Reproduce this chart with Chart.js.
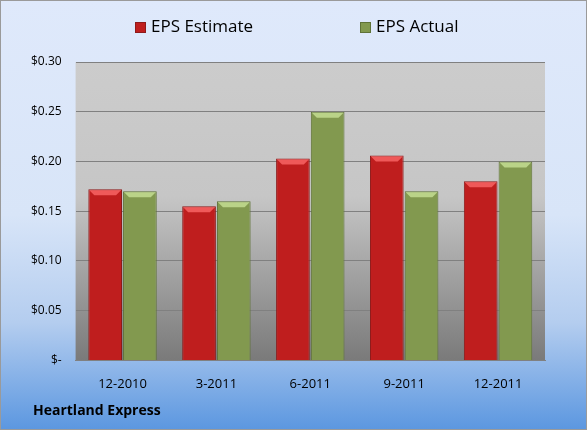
<!DOCTYPE html>
<html>
<head>
<meta charset="utf-8">
<script src="https://cdn.jsdelivr.net/npm/chart.js@4"></script>
<style>
  html, body { margin: 0; padding: 0; }
  #wrap { width: 587px; height: 430px; }
</style>
</head>
<body>
<div id="wrap"><canvas id="epsChart" width="587" height="430"></canvas></div>
<script>
// data
var quarters = ['12-2010', '3-2011', '6-2011', '9-2011', '12-2011'];
var epsEstimate = [0.172, 0.155, 0.203, 0.206, 0.18];
var epsActual = [0.17, 0.16, 0.25, 0.17, 0.20];
var yTickLabels = ['$-', '$0.05', '$0.10', '$0.15', '$0.20', '$0.25', '$0.30'];

var fontFam = '"Open Sans", "Noto Sans", sans-serif';
var legendX = [135, 360];

// page background, plot area shading, legend and the footer text
var backdrop = {
  id: 'backdrop',
  beforeDraw: function(chart) {
    var c = chart.ctx, w = chart.width, h = chart.height, a = chart.chartArea;
    c.save();
    var bg = c.createLinearGradient(0, 0, 0, h);
    bg.addColorStop(0, '#dfe9fb');
    bg.addColorStop(0.5, '#d8e5f8');
    bg.addColorStop(0.75, '#b4cdef');
    bg.addColorStop(1, '#5b97e0');
    c.fillStyle = bg;
    c.fillRect(0, 0, w, h);
    c.strokeStyle = '#9a9a9a';
    c.lineWidth = 1;
    c.strokeRect(0.5, 0.5, w - 1, h - 1);

    var pg = c.createLinearGradient(0, a.top, 0, a.bottom);
    pg.addColorStop(0, '#cccccc');
    pg.addColorStop(0.45, '#c6c6c6');
    pg.addColorStop(1, '#7a7a7a');
    c.fillStyle = pg;
    c.fillRect(a.left, a.top, a.right - a.left, a.bottom - a.top);
    c.restore();
  },
  afterDraw: function(chart) {
    var c = chart.ctx;
    c.save();
    c.textBaseline = 'middle';
    chart.data.datasets.forEach(function(ds, i) {
      var x = legendX[i];
      c.fillStyle = ds.backgroundColor;
      c.strokeStyle = ds.borderColor;
      c.fillRect(x, 22, 11, 11);
      c.strokeRect(x + 0.5, 22.5, 10, 10);
      c.fillStyle = '#000';
      c.font = '17px ' + fontFam;
      c.fillText(ds.label, x + 16, 27);
    });
    c.font = 'bold 14px ' + fontFam;
    c.fillText('Heartland Express', 33, 411);
    c.restore();
  }
};

// little bevel on top of each bar
var bevel = {
  id: 'bevel',
  afterDatasetsDraw: function(chart) {
    var c = chart.ctx;
    var lights = ['rgba(255,110,110,0.75)', 'rgba(200,225,150,0.8)'];
    chart.data.datasets.forEach(function(ds, i) {
      chart.getDatasetMeta(i).data.forEach(function(bar) {
        var l = bar.x - bar.width / 2, r = bar.x + bar.width / 2, t = bar.y;
        c.save();
        c.fillStyle = lights[i];
        c.beginPath();
        c.moveTo(l + 1, t + 1);
        c.lineTo(r - 1, t + 1);
        c.lineTo(r - 6, t + 6);
        c.lineTo(l + 6, t + 6);
        c.closePath();
        c.fill();
        c.restore();
      });
    });
  }
};

var ctx = document.getElementById('epsChart').getContext('2d');
var epsChart = new Chart(ctx, {
  type: 'bar',
  data: {
    labels: quarters,
    datasets: [{
      label: 'EPS Estimate',
      data: epsEstimate,
      backgroundColor: '#bf1e1e',
      borderColor: '#8e1a1a',
      borderWidth: 1
    }, {
      label: 'EPS Actual',
      data: epsActual,
      backgroundColor: '#82994f',
      borderColor: '#5f7338',
      borderWidth: 1
    }]
  },
  options: {
    responsive: false,
    animation: false,
    layout: { padding: { left: 17, right: 42, top: 62, bottom: 30 } },
    datasets: {
      bar: { categoryPercentage: 0.74, barPercentage: 0.97 }
    },
    plugins: {
      legend: { display: false },
      tooltip: { enabled: false }
    },
    scales: {
      x: {
        grid: { display: false },
        border: { color: '#808080' },
        ticks: { color: '#000', font: { family: fontFam, size: 13 }, padding: 8 }
      },
      y: {
        min: 0,
        max: 0.30,
        grid: { color: '#808080', drawTicks: false },
        border: { display: false },
        ticks: {
          stepSize: 0.05,
          padding: 14,
          color: '#000',
          font: { family: fontFam, size: 12 },
          callback: function(v) {
            return yTickLabels[Math.round(v / 0.05)];
          }
        }
      }
    }
  },
  plugins: [backdrop, bevel]
});
</script>
</body>
</html>
